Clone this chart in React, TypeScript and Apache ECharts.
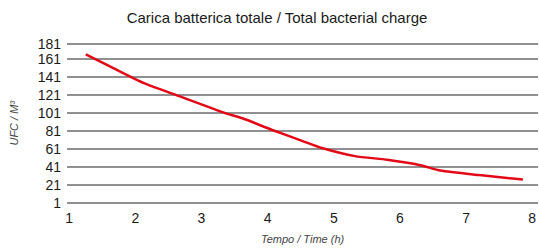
import React, { useEffect, useRef } from "react";
import * as echarts from "echarts";

const title = "Carica batterica totale / Total bacterial charge";
const xName = "Tempo / Time (h)";
const yName = "UFC / M³";
const xTicks = [1, 2, 3, 4, 5, 6, 7, 8];
const yTicks = [1, 21, 41, 61, 81, 101, 121, 141, 161, 178];
const yTickLabels = ["1", "21", "41", "61", "81", "101", "121", "141", "161", "181"];
const timeValues = [1.25, 1.63, 2.13, 2.61, 3.35, 3.62, 4.07, 4.52, 4.82, 5.32, 5.81, 6.31, 6.61, 7.2, 7.86];
const ufcValues = [166, 152, 134, 121, 101, 95, 82, 70, 62, 53, 49, 43, 37, 32, 27];

const FONT = "Liberation Sans";

export default function App() {
  const ref = useRef<HTMLDivElement>(null);
  useEffect(() => {
    if (!ref.current) return;
    const chart = echarts.init(ref.current, null, { renderer: "svg" });
    chart.setOption({
      animation: false,
      title: {
        text: title,
        left: 272,
        top: 5,
        textAlign: "center",
        textStyle: { fontFamily: FONT, fontSize: 15, fontWeight: "normal", color: "#1a1a1a" },
      },
      grid: { left: 61.7, right: 0, top: 43.5, bottom: 40.5, containLabel: false },
      xAxis: {
        type: "value",
        min: 0.966,
        max: 8.09,
        name: xName,
        nameLocation: "middle",
        nameGap: 30,
        nameTextStyle: { fontFamily: FONT, fontSize: 11, fontStyle: "italic", color: "#444" },
        axisLine: { show: false },
        axisTick: { show: false, customValues: xTicks },
        splitLine: { show: false },
        axisLabel: {
          customValues: xTicks,
          margin: 8,
          fontFamily: FONT,
          fontSize: 14,
          color: "#1a1a1a",
        },
      },
      yAxis: {
        type: "value",
        min: 1,
        max: 178,
        name: yName,
        nameLocation: "middle",
        nameGap: 48,
        nameTextStyle: { fontFamily: FONT, fontSize: 11, fontStyle: "italic", color: "#444" },
        axisLine: { show: false },
        axisTick: { show: false, customValues: yTicks },
        splitLine: { show: true, lineStyle: { color: "#6b6b6b", width: 1.5 } },
        axisLabel: {
          customValues: yTicks,
          margin: 6,
          fontFamily: FONT,
          fontSize: 14,
          color: "#1a1a1a",
          formatter: (v: number) => {
            const i = yTicks.indexOf(v);
            return i >= 0 ? yTickLabels[i] : "";
          },
        },
      },
      series: [
        {
          type: "line",
          data: timeValues.map((t, i) => [t, ufcValues[i]]),
          showSymbol: false,
          smooth: 0.2,
          lineStyle: { color: "#e30a17", width: 2.5 },
        },
      ],
    });
    return () => chart.dispose();
  }, []);
  return <div ref={ref} style={{ width: 539, height: 249, position: "absolute", left: 0, top: 0 }} />;
}
